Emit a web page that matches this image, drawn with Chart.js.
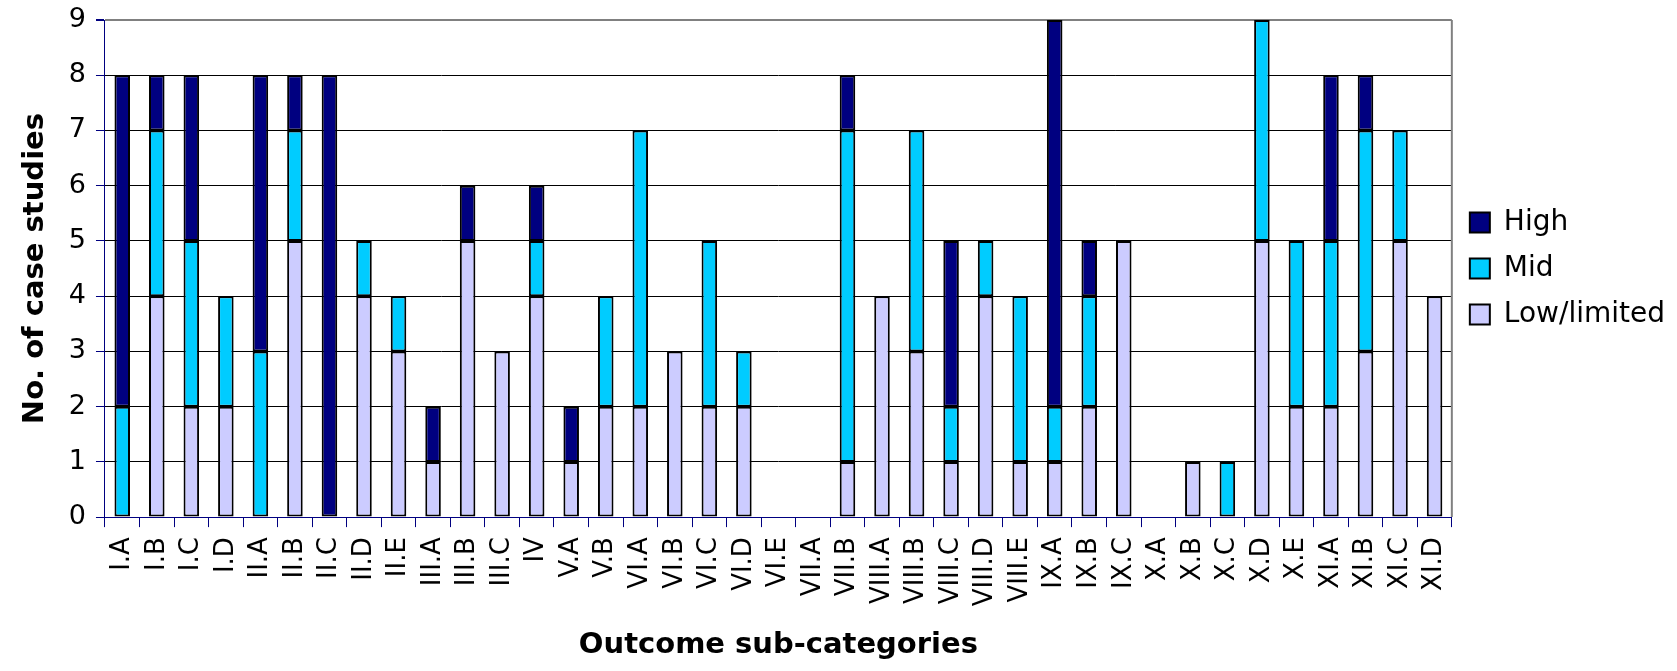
<!DOCTYPE html>
<html>
<head>
<meta charset="utf-8">
<script src="https://cdn.jsdelivr.net/npm/chart.js@4/dist/chart.umd.min.js"></script>
<style>
  html, body { margin: 0; padding: 0; background: #fff; }
  #wrap { width: 1677px; height: 671px; }
</style>
</head>
<body>
<div id="wrap"><canvas id="chart" width="1677" height="671"></canvas></div>
<script>
const categories = ['I.A', 'I.B', 'I.C', 'I.D', 'II.A', 'II.B', 'II.C', 'II.D', 'II.E',
    'III.A', 'III.B', 'III.C', 'IV', 'V.A', 'V.B', 'VI.A', 'VI.B', 'VI.C', 'VI.D', 'VI.E',
    'VII.A', 'VII.B', 'VIII.A', 'VIII.B', 'VIII.C', 'VIII.D', 'VIII.E', 'IX.A', 'IX.B', 'IX.C',
    'X.A', 'X.B', 'X.C', 'X.D', 'X.E', 'XI.A', 'XI.B', 'XI.C', 'XI.D'];

const lowValues  = [0, 4, 2, 2, 0, 5, 0, 4, 3, 1, 5, 3, 4, 1, 2, 2, 3, 2, 2, 0, 0, 1, 4, 3, 1, 4, 1, 1, 2, 5, 0, 1, 0, 5, 2, 2, 3, 5, 4];
const midValues  = [2, 3, 3, 2, 3, 2, 0, 1, 1, 0, 0, 0, 1, 0, 2, 5, 0, 3, 1, 0, 0, 6, 0, 4, 1, 1, 3, 1, 2, 0, 0, 0, 1, 4, 3, 3, 4, 2, 0];
const highValues = [6, 1, 3, 0, 5, 1, 8, 0, 0, 1, 1, 0, 1, 1, 0, 0, 0, 0, 0, 0, 0, 1, 0, 0, 3, 0, 0, 7, 1, 0, 0, 0, 0, 0, 0, 3, 1, 0, 0];

const yTicks = [0, 1, 2, 3, 4, 5, 6, 7, 8, 9];

const NAVY = '#000080';

// empty segments should not draw a flat outlined box
const clean = arr => arr.map(v => v === 0 ? null : v);

const rightBorder = {
    id: 'rightBorder',
    afterDatasetsDraw(chart) {
        const { ctx, chartArea } = chart;
        ctx.save();
        ctx.strokeStyle = '#808080';
        ctx.lineWidth = 2;
        ctx.beginPath();
        ctx.moveTo(chartArea.right, chartArea.top);
        ctx.lineTo(chartArea.right, chartArea.bottom);
        ctx.stroke();
        ctx.restore();
    }
};

const barStyle = {
    borderColor: '#000000',
    borderWidth: 2,
    borderSkipped: false,
    barPercentage: 0.45,
    categoryPercentage: 1.0
};

new Chart(document.getElementById('chart').getContext('2d'), {
    type: 'bar',
    data: {
        labels: categories,
        datasets: [
            Object.assign({ label: 'Low/limited', data: clean(lowValues), backgroundColor: '#CCCCFF' }, barStyle),
            Object.assign({ label: 'Mid', data: clean(midValues), backgroundColor: '#00CCFF' }, barStyle),
            Object.assign({ label: 'High', data: clean(highValues), backgroundColor: '#000080' }, barStyle)
        ]
    },
    options: {
        responsive: false,
        animation: false,
        layout: { padding: { top: 20, right: 2, left: 18, bottom: 8 } },
        plugins: {
            tooltip: { enabled: false },
            legend: {
                position: 'right',
                fullSize: false,
                reverse: true,
                labels: {
                    boxWidth: 20,
                    boxHeight: 20,
                    padding: 18,
                    color: '#000',
                    font: { family: 'DejaVu Sans', size: 28 },
                    generateLabels(chart) {
                        return chart.data.datasets.map((ds, i) => ({
                            text: ds.label,
                            fillStyle: ds.backgroundColor,
                            strokeStyle: '#000',
                            lineWidth: 2,
                            datasetIndex: i,
                            hidden: false
                        }));
                    }
                }
            }
        },
        scales: {
            x: {
                stacked: true,
                offset: true,
                border: { color: NAVY, width: 1 },
                grid: {
                    offset: true,
                    drawOnChartArea: false,
                    color: NAVY,
                    tickLength: 10
                },
                ticks: {
                    autoSkip: false,
                    maxRotation: 90,
                    minRotation: 90,
                    padding: 10,
                    color: '#000',
                    font: { family: 'DejaVu Sans', size: 26 }
                },
                title: {
                    display: true,
                    text: 'Outcome sub-categories',
                    color: '#000',
                    font: { family: 'DejaVu Sans', size: 29, weight: 'bold' },
                    padding: { top: 12, bottom: 0 }
                }
            },
            y: {
                stacked: true,
                min: 0,
                max: 9,
                afterBuildTicks(axis) {
                    axis.ticks = yTicks.map(v => ({ value: v }));
                },
                border: { color: NAVY, width: 1 },
                grid: {
                    color: ctx => ctx.tick && ctx.tick.value === 9 ? '#808080' : '#000000',
                    lineWidth: ctx => ctx.tick && ctx.tick.value === 9 ? 2 : 1,
                    tickColor: NAVY,
                    tickLength: 9
                },
                ticks: {
                    padding: 10,
                    color: '#000',
                    font: { family: 'DejaVu Sans', size: 27, lineHeight: 0.7 }
                },
                title: {
                    display: true,
                    text: 'No. of case studies',
                    color: '#000',
                    font: { family: 'DejaVu Sans', size: 29, weight: 'bold' },
                    padding: { top: 0, bottom: 6 }
                }
            }
        }
    },
    plugins: [rightBorder]
});
</script>
</body>
</html>
